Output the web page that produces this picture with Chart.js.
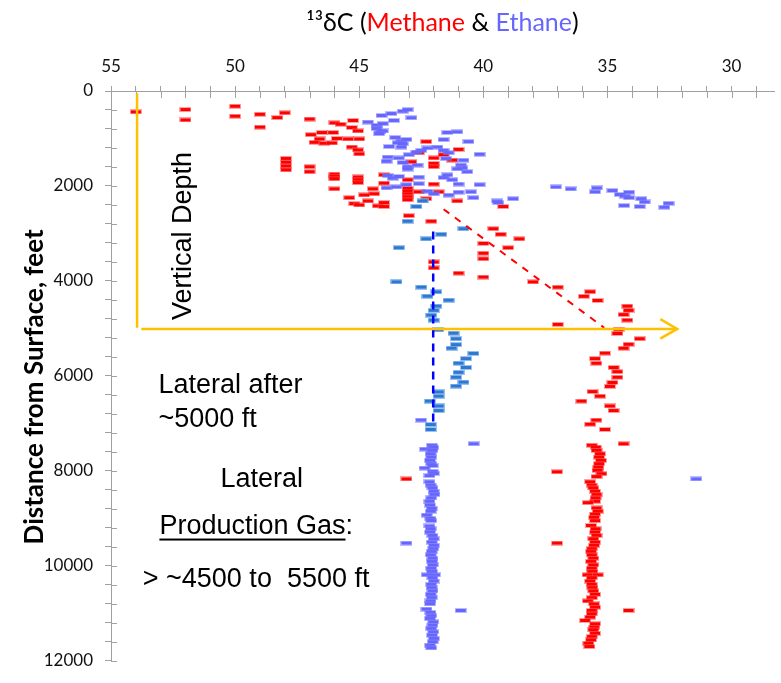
<!DOCTYPE html>
<html><head><meta charset="utf-8">
<script src="https://cdn.jsdelivr.net/npm/chart.js@4"></script>
<style>html,body{margin:0;padding:0;background:#fff}canvas{display:block}</style>
</head><body>
<canvas id="c" width="781" height="683"></canvas>
<script>
// ---- tick labels ----
const xTickLabels = [55, 50, 45, 40, 35, 30];
const yTickLabels = [0, 2000, 4000, 6000, 8000, 10000, 12000];

// ---- series values: [delta13C, depth ft] ----
const methaneVertical = [
 [54.0,440],[52.0,390],[52.0,610],[50.0,320],[50.0,530],[49.0,490],[49.0,760],[48.3,560],[48.0,460],[47.0,590],
 [46.95,920],[46.5,875],[46.6,1010],[46.8,1080],[46.4,1100],
 [47.95,1420],[47.95,1500],[47.95,1580],[47.95,1660],[47.0,1595],[47.0,1700],
 [46.0,670],[45.75,700],[45.25,620],[45.3,770],[45.05,840],[46.05,875],[45.9,1000],[45.45,1010],[45.0,1010],[46.1,1095],[45.3,1180],[45.05,1240],[45.0,1325],
 [42.3,1065],[41.0,1230],[42.6,1300],[42.0,1410],[42.9,1490],[42.0,1525],[42.0,1595],[41.25,1455],[41.6,1340],
 [46.0,1750],[46.0,1800],[46.0,1850],[45.05,1810],[45.05,1870],[45.05,1930],
 [44.0,1766],[44.0,1940],[43.05,1870],
 [46.0,2060],[44.45,2060],[44.4,2165],
 [43.05,2050],[43.05,2110],[43.05,2170],[43.05,2230],[43.05,2290],
 [42.6,2124],[42.0,1960],[41.8,2124],[42.3,2268],
 [44.8,2190],[44.65,2316],[45.4,2247],[45.2,2370],[45.0,2400],[44.25,2420],[44.0,2350],[44.0,2433],
 [41.05,2316],[39.2,2433],[43.0,2625],[42.1,2742],[39.6,2900],[39.3,3017],[38.55,3113],[40.0,3210],[39.0,3300],
 [40.0,3416],[40.0,3533],[42.0,3600],[42.0,3725],[41.0,3835],[40.0,3918],[38.0,4021],[37.0,4131],[35.7,4227],
 [35.95,4323],[35.4,4412],[34.2,4530],[34.15,4619],[34.35,4709],[34.2,4825],[37.0,4915],[34.55,5018],[34.6,5107],
 [33.7,5217],[34.15,5334],[34.35,5417],[35.1,5520],[35.5,5636],[35.45,5733],[34.75,5822],[34.6,5911],[34.6,6028],
 [34.8,6138],[34.9,6221],[35.6,6331],[35.3,6427],[36.05,6530],[34.9,6633],[34.75,6729],[35.45,6929],[35.7,7018],
 [35.1,7128],[34.35,7430]
];
const methaneLateral = [
 [35.63,7460],[35.47,7500],[35.44,7570],[35.30,7640],[35.34,7710],[35.26,7780],[35.34,7850],[35.37,7920],[35.40,7990],
 [35.24,8060],[35.44,8120],[35.70,8230],[35.63,8300],[35.57,8360],[35.50,8430],[35.44,8500],[35.48,8570],[35.50,8640],
 [35.79,8670],[35.44,8780],[35.39,8850],[35.50,8910],[35.54,8980],[35.50,9050],[35.66,9150],[35.48,9220],[35.50,9290],
 [35.44,9360],[35.57,9430],[35.50,9500],[35.54,9570],[35.63,9640],[35.66,9700],[35.63,9770],[35.57,9840],[35.66,9910],
 [35.57,9980],[35.63,10050],[35.61,10120],[35.80,10190],[35.39,10190],[35.63,10250],[35.70,10320],[35.63,10390],
 [35.61,10460],[35.57,10530],[35.50,10600],[35.63,10670],[35.79,10740],[35.54,10800],[35.50,10870],[35.63,10940],
 [35.63,11010],[35.70,11080],[35.90,11150],[35.50,11220],[35.53,11290],[35.57,11350],[35.50,11420],[35.63,11490],
 [35.66,11560],[35.77,11630],[35.73,11700],
 [43.1,8170],[37.03,8020],[37.03,9520],[34.15,10940]
];
const ethaneVertical = [
 [44.1,515],[43.7,474],[43.25,426],[43.05,392],[42.9,564],[43.6,619],[44.65,653],[44.3,722],[44.05,687],[44.3,790],
 [44.15,860],[44.05,840],[44.2,900],[43.55,980],[43.3,1050],[43.1,1020],[43.45,1090],[43.25,1110],[43.8,1170],[43.3,1180],
 [41.45,873],[41.05,860],[41.6,1024],[40.6,1065],[42.5,1250],[42.25,1200],[41.85,1180],[41.6,1250],[41.4,1300],[40.15,1333],
 [43.85,1390],[43.4,1410],[43.0,1340],[42.7,1285],[43.9,1480],[43.25,1505],[43.05,1595],[43.05,1643],[42.65,1560],
 [41.5,1423],[40.8,1457],[40.9,1560],[40.85,1620],[40.65,1700],[41.05,1640],[43.85,1780],[43.65,1835],[43.4,1800],
 [42.6,1815],[41.6,1822],[41.45,1766],[41.25,1870],[43.9,2041],[43.5,2020],[43.1,1972],[42.6,1952],[42.25,2110],
 [42.0,2165],[41.4,2192],[41.0,2130],[40.5,2124],[41.0,1959],[40.15,1972],[40.4,2247],[39.45,2316],[38.8,2268],[39.4,2350],
 [37.08,2021],[36.48,2062],[35.43,2041],[35.5,2124],[34.8,2096],[34.5,2179],[34.3,2213],[34.13,2131],[34.13,2248],
 [33.64,2268],[33.5,2337],[34.33,2412],[33.7,2433],[32.54,2364],[32.71,2447],
 [42.51,6930]
];
const ethaneBuild = [
 [42.45,2316],[42.7,2433],[43.05,2742],[41.7,3017],[42.3,3113],[40.8,2900],[43.4,3300],[43.5,4020],[42.5,4130],
 [42.25,4320],[41.9,4230],[41.4,4405],[41.9,4530],[42.0,4620],[42.1,4720],[42.0,4825],[41.82,5030],[41.2,5100],
 [41.1,5217],[41.1,5341],[41.28,5416],[40.4,5526],[40.7,5636],[41.0,5732],[40.7,5822],[41.0,5925],[41.1,6028],
 [40.8,6131],[41.1,6213],[41.8,6337],[41.8,6426],[42.15,6530],[41.8,6633],[41.8,6729],[42.12,7024],[42.12,7128]
];
const ethaneLateral = [
 [42.07,7460],[42.02,7505],[42.35,7540],[42.05,7570],[42.12,7640],[42.10,7710],[42.15,7780],[42.10,7850],[42.04,7890],
 [42.37,7940],[42.04,8010],[42.00,8055],[42.17,8100],[42.17,8230],[42.12,8300],[42.05,8360],[42.00,8430],[41.97,8500],
 [42.10,8570],[42.17,8640],[42.15,8720],[42.08,8790],[42.12,8850],[42.28,8930],[42.13,9000],[42.10,9050],[42.17,9160],
 [42.12,9220],[42.15,9290],[42.05,9360],[42.00,9430],[42.08,9500],[41.99,9570],[42.02,9640],[42.08,9700],[42.12,9770],
 [42.05,9840],[42.07,9910],[42.04,9980],[42.10,10050],[42.07,10120],[42.28,10190],[41.95,10190],[42.05,10250],
 [42.00,10320],[42.10,10390],[42.08,10460],[42.05,10530],[42.12,10600],[42.08,10670],[42.13,10740],[42.15,10800],
 [42.29,10910],[42.13,10980],[42.10,11050],[42.15,11110],[42.02,11180],[42.05,11250],[42.10,11320],[42.02,11390],
 [42.07,11460],[41.99,11530],[42.04,11600],[42.15,11670],[42.10,11730],
 [40.39,7430],[31.42,8170],[43.1,9520],[40.91,10940]
];
// guide lines
const ethaneTrend = [[42.02,2960],[42.02,6990]];
const methaneTrend = [[41.6,2490],[35.13,4985]];
const verticalArrow = [[53.95,50],[53.95,4985]];
const lateralArrow = [[53.78,5010],[32.19,5010]];
const lateralArrowHead = [[32.87,4805],[32.19,5010],[32.87,5215]];

const yAxisTitle = 'Distance from Surface, feet';
const annotations = [
 {text:'Vertical Depth', x:51.78, y:4825, rotate:true},
 {text:'Lateral after', x:53.09, y:6351},
 {text:'~5000 ft', x:53.09, y:7073},
 {text:'Lateral', x:50.59, y:8331},
 {text:'Production Gas:', x:53.05, y:9320, underline:'Production Gas'},
 {text:'> ~4500 to  5500 ft', x:53.72, y:10454}
];

const pts = a => a.map(p => ({x:p[0], y:p[1]}));

function dashImg(core, halo){
  const c = document.createElement('canvas'); c.width = 12; c.height = 5;
  const g = c.getContext('2d');
  g.fillStyle = halo; g.fillRect(0,0,12,5);
  g.fillStyle = core; g.fillRect(1,1,10,3);
  return c;
}
const redDash = dashImg('#ff0000','rgba(255,70,70,0.5)');
const purpleDash = dashImg('#6666ff','rgba(120,120,255,0.5)');
const steelDash = dashImg('#2f78d2','rgba(120,175,235,0.75)');

const AXIS = '#a0a0a0';
const lineDs = (data, color, width, dash) => ({
  data: pts(data), showLine:true, pointRadius:0, borderColor:color, borderWidth:width,
  borderDash:dash || [], fill:false, tension:0
});

const overlay = {
  id:'overlay',
  beforeDatasetsDraw(chart){
    const ctx = chart.ctx, xs = chart.scales.x, ys = chart.scales.y, a = chart.chartArea;
    ctx.save(); ctx.strokeStyle = AXIS; ctx.lineWidth = 1; ctx.beginPath();
    xs.ticks.forEach(t => { const p = Math.round(xs.getPixelForValue(t.value)) + 0.5; ctx.moveTo(p, a.top); ctx.lineTo(p, a.top + 7); });
    ys.ticks.forEach(t => { const p = Math.round(ys.getPixelForValue(t.value)) + 0.5; ctx.moveTo(a.left, p); ctx.lineTo(a.left + 6, p); });
    ctx.stroke(); ctx.restore();
  },
  afterDraw(chart){
    const ctx = chart.ctx, xs = chart.scales.x, ys = chart.scales.y, a = chart.chartArea;
    ctx.save();
    // title
    const segs = [['\u00B9\u00B3\u03B4C (', '#000'], ['Methane', '#ff0000'], [' & ', '#000'], ['Ethane', '#6666ff'], [')', '#000']];
    ctx.font = '25px Lato'; ctx.textBaseline = 'alphabetic'; ctx.textAlign = 'left';
    let w = 0; segs.forEach(s => w += ctx.measureText(s[0]).width);
    let x = (a.left + a.right) / 2 - w / 2;
    segs.forEach(s => { ctx.fillStyle = s[1]; ctx.fillText(s[0], x, 31); x += ctx.measureText(s[0]).width; });
    // y axis title
    ctx.save();
    ctx.font = 'bold 26px Lato'; ctx.fillStyle = '#000'; ctx.textAlign = 'center'; ctx.textBaseline = 'middle';
    ctx.translate(35, (a.top + a.bottom) / 2 + 11); ctx.rotate(-Math.PI / 2);
    ctx.fillText(yAxisTitle, 0, 0);
    ctx.restore();
    // annotations
    ctx.font = '27px "Liberation Sans", Arial, sans-serif'; ctx.fillStyle = '#000'; ctx.textAlign = 'left'; ctx.textBaseline = 'alphabetic';
    annotations.forEach(an => {
      const px = xs.getPixelForValue(an.x), py = ys.getPixelForValue(an.y);
      if (an.rotate) {
        ctx.save(); ctx.translate(px, py); ctx.rotate(-Math.PI/2); ctx.fillText(an.text, 0, 0); ctx.restore();
      } else {
        ctx.fillText(an.text, px, py);
        if (an.underline) {
          const uw = ctx.measureText(an.underline).width;
          ctx.fillRect(px, py + 5, uw, 2);
        }
      }
    });
    ctx.restore();
  }
};

new Chart(document.getElementById('c'), {
  type:'scatter',
  data:{ datasets:[
    lineDs(lateralArrowHead, '#ffc000', 2.5),
    lineDs(lateralArrow, '#ffc000', 2.5),
    lineDs(verticalArrow, '#ffc000', 2.5),
    lineDs(ethaneTrend, '#0000ff', 2.5, [8,6]),
    lineDs(methaneTrend, '#ff0000', 2, [7,7]),
    {label:'Ethane (build)', data:pts(ethaneBuild), pointStyle:steelDash, pointRadius:6},
    {label:'Ethane', data:pts(ethaneVertical.concat(ethaneLateral)), pointStyle:purpleDash, pointRadius:6},
    {label:'Methane', data:pts(methaneVertical.concat(methaneLateral)), pointStyle:redDash, pointRadius:6}
  ]},
  options:{
    responsive:false, devicePixelRatio:1, animation:false, events:[],
    layout:{padding:{left:0, right:0, top:0, bottom:10}},
    plugins:{legend:{display:false}, tooltip:{enabled:false}, title:{display:false}},
    scales:{
      x:{type:'linear', position:'top', reverse:true, min:28.29, max:55, bounds:'data',
         afterFit(s){ s.height = 91; },
         afterBuildTicks(s){ const t = []; for (let v = 29; v <= 55; v++) t.push({value:v}); s.ticks = t; },
         grid:{display:true, drawOnChartArea:false, drawTicks:true, tickLength:5, color:AXIS},
         border:{color:AXIS, width:1},
         ticks:{stepSize:1, autoSkip:false, maxRotation:0, padding:9, color:'#111',
           font:{family:'Lato', size:17},
           callback:v => xTickLabels.includes(v) ? String(v) : ''}
      },
      y:{type:'linear', position:'left', reverse:true, min:0, max:12000, bounds:'data',
         afterFit(s){ s.width = 111; },
         afterBuildTicks(s){ const t = []; for (let v = 0; v <= 12000; v += 400) t.push({value:v}); s.ticks = t; },
         grid:{display:true, drawOnChartArea:false, drawTicks:true, tickLength:6, color:AXIS},
         border:{color:AXIS, width:1},
         title:{display:false},
         ticks:{stepSize:400, autoSkip:false, padding:12, color:'#111',
           font:{family:'Lato', size:17},
           callback:v => yTickLabels.includes(v) ? String(v) : ''}
      }
    }
  },
  plugins:[overlay]
});
</script>
</body></html>
